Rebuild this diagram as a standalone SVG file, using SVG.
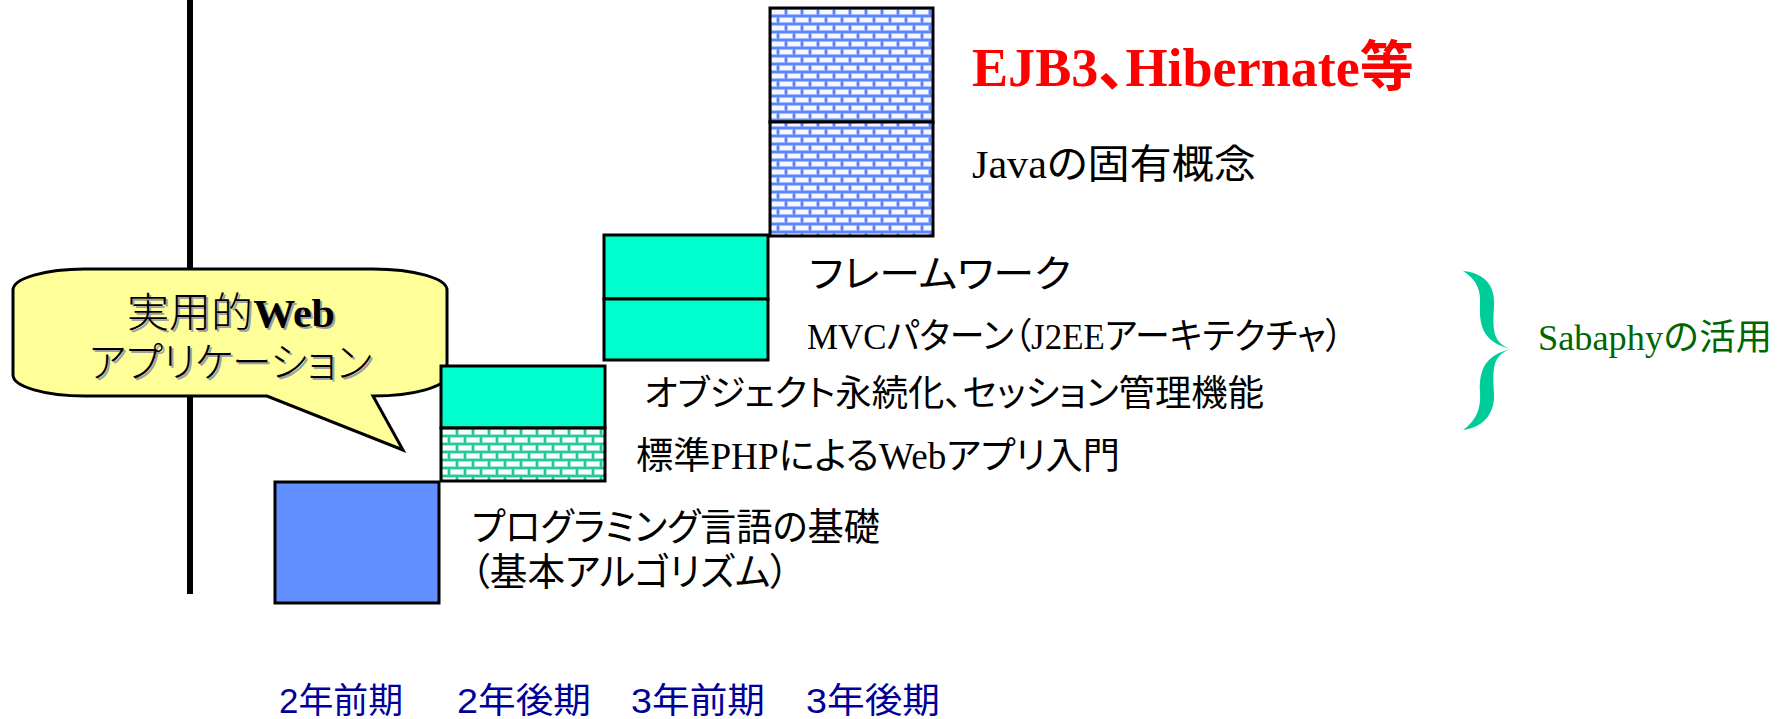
<svg xmlns="http://www.w3.org/2000/svg" width="1777" height="719" viewBox="0 0 1777 719">
<style>
.box { stroke: #000; stroke-width: 3; }
.t { font-family: "Liberation Serif", "Noto Sans CJK JP", sans-serif; fill: #000; font-feature-settings: "palt"; }
.yr { font-family: "Liberation Sans", "Noto Sans CJK JP", sans-serif; fill: #000099; font-size: 35px; font-feature-settings: "palt"; }
.call { font-family: "Liberation Serif", "Noto Sans CJK JP", serif; font-size: 41px; font-weight: 300; font-feature-settings: "palt"; }
</style>
<defs>
<pattern id="brickBlue" width="16" height="16" patternUnits="userSpaceOnUse" x="770" y="8">
<rect width="16" height="16" fill="#5f86ff"/>
<g fill="#f6f8ff" stroke="#a8beff" stroke-width="1">
<rect x="1.5" y="1.5" width="13" height="5"/>
<rect x="-6.5" y="9.5" width="13" height="5"/>
<rect x="9.5" y="9.5" width="13" height="5"/>
</g>
</pattern>
<pattern id="brickGreen" width="16" height="16" patternUnits="userSpaceOnUse" x="441" y="428">
<rect width="16" height="16" fill="#22c898"/>
<g fill="#f8fffc" stroke="#9fe6cf" stroke-width="1">
<rect x="1.5" y="1.5" width="13" height="5"/>
<rect x="-6.5" y="9.5" width="13" height="5"/>
<rect x="9.5" y="9.5" width="13" height="5"/>
</g>
</pattern>
</defs>
<rect width="1777" height="719" fill="#fff"/>

<g id="timeline">
<line x1="190" y1="0" x2="190" y2="594" stroke="#000" stroke-width="6"/>
</g>

<g id="callout">
<path d="M 85 269 L 373 269 A 74 21 0 0 1 447 290 L 447 375 A 74 21 0 0 1 373 396 L 403 450 L 267 396 L 85 396 A 72 21 0 0 1 13 375 L 13 290 A 72 21 0 0 1 85 269 Z" fill="#ffff99" stroke="#000" stroke-width="3" stroke-linejoin="miter"/>
<text class="call" x="129" y="329" textLength="208" lengthAdjust="spacingAndGlyphs" fill="#a0a0a0">実用的<tspan font-weight="bold">Web</tspan></text>
<text class="call" x="127" y="327" textLength="208" lengthAdjust="spacingAndGlyphs" fill="#000">実用的<tspan font-weight="bold">Web</tspan></text>
<text class="call" x="91" y="379" textLength="283" lengthAdjust="spacingAndGlyphs" fill="#a0a0a0">アプリケーション</text>
<text class="call" x="89" y="377" textLength="283" lengthAdjust="spacingAndGlyphs" fill="#000">アプリケーション</text>
</g>

<g id="step1">
<rect class="box" x="275" y="482" width="164" height="121" fill="#618fff"/>
</g>

<g id="step2">
<rect class="box" x="441" y="366" width="164" height="62" fill="#00ffcc"/>
<rect class="box" x="441" y="428" width="164" height="53" fill="url(#brickGreen)"/>
</g>

<g id="step3">
<rect class="box" x="604" y="235" width="164" height="64" fill="#00ffcc"/>
<rect class="box" x="604" y="299" width="164" height="61" fill="#00ffcc"/>
</g>

<g id="step4">
<rect class="box" x="770" y="8" width="163" height="114" fill="url(#brickBlue)"/>
<rect class="box" x="770" y="122" width="163" height="114" fill="url(#brickBlue)"/>
</g>

<g id="labels">
<text class="t" x="972" y="86" font-size="54" font-weight="bold" style="fill:#ff0000" textLength="442" lengthAdjust="spacingAndGlyphs">EJB3、Hibernate等</text>
<text class="t" x="972" y="178" font-size="40" textLength="284" lengthAdjust="spacingAndGlyphs">Javaの固有概念</text>
<text class="t" x="809" y="287" font-size="38" textLength="262" lengthAdjust="spacingAndGlyphs">フレームワーク</text>
<text class="t" x="807" y="349" font-size="36" textLength="536" lengthAdjust="spacingAndGlyphs">MVCパターン（J2EEアーキテクチャ）</text>
<text class="t" x="644" y="406" font-size="36" textLength="620" lengthAdjust="spacingAndGlyphs">オブジェクト永続化、セッション管理機能</text>
<text class="t" x="636" y="469" font-size="37" textLength="484" lengthAdjust="spacingAndGlyphs">標準PHPによるWebアプリ入門</text>
<text class="t" x="472" y="540" font-size="38" textLength="408" lengthAdjust="spacingAndGlyphs">プログラミング言語の基礎</text>
<text class="t" x="471" y="585" font-size="38" textLength="318" lengthAdjust="spacingAndGlyphs">（基本アルゴリズム）</text>
</g>

<g id="sabaphy">
<path d="M 1463 271 C 1486 273 1495 287 1494 305 C 1493 326 1491 343 1511 349 C 1491 355 1493 372 1494 393 C 1495 411 1486 427 1463 430 C 1477 420 1481 408 1480 392 C 1479 370 1485 355 1511 349 C 1485 343 1479 328 1480 306 C 1481 290 1477 280 1463 271 Z" fill="#00cc99"/>
<text x="1538" y="350" font-size="36" style="font-family:'Liberation Serif','Noto Sans CJK JP',serif;fill:#006600" textLength="234" lengthAdjust="spacingAndGlyphs">Sabaphyの活用</text>
</g>

<g id="terms">
<text class="yr" x="279" y="713" textLength="124" lengthAdjust="spacingAndGlyphs">2年前期</text>
<text class="yr" x="457" y="713" textLength="134" lengthAdjust="spacingAndGlyphs">2年後期</text>
<text class="yr" x="631" y="713" textLength="134" lengthAdjust="spacingAndGlyphs">3年前期</text>
<text class="yr" x="806" y="713" textLength="134" lengthAdjust="spacingAndGlyphs">3年後期</text>
</g>
</svg>
